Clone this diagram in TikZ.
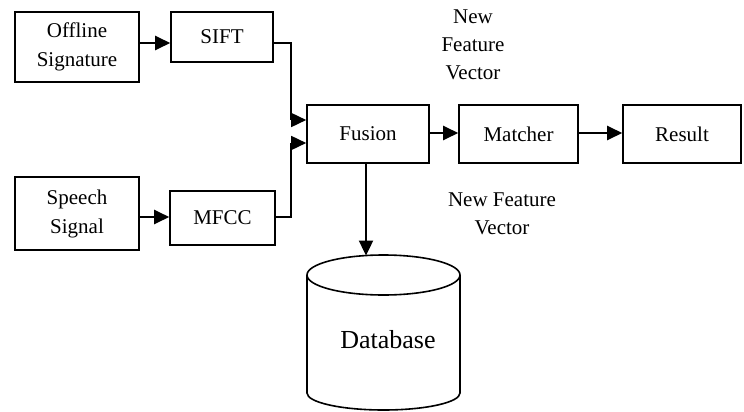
\documentclass[tikz,border=0pt]{standalone}
\usepackage{fontspec}
\setmainfont{Liberation Serif}
\usetikzlibrary{arrows.meta}
\begin{document}
\begin{tikzpicture}[x=0.5pt,y=-0.5pt,
  box/.style={draw,line width=0.8pt,inner sep=0pt,align=center,font=\fontsize{10.5}{14.5}\selectfont},
  lbl/.style={inner sep=0pt,align=center,font=\fontsize{10.5}{14}\selectfont},
  arr/.style={line width=1.2pt,-{Triangle[length=7.5pt,width=7pt]}},
  tarr/.style={line width=0.8pt,-{Triangle[length=7.5pt,width=7pt]}},
  conn/.style={line width=0.8pt}]
\useasboundingbox (0,0) rectangle (744,412);
\node[box,minimum width=62pt,minimum height=35pt] (off) at (77,47) {Offline\\Signature};
\node[box,minimum width=51pt,minimum height=25pt] (sift) at (222,37) {SIFT};
\node[box,minimum width=62pt,minimum height=36.5pt] (speech) at (77,213.5) {Speech\\Signal};
\node[box,minimum width=52.5pt,minimum height=27pt] (mfcc) at (222.5,218) {MFCC};
\node[box,minimum width=61pt,minimum height=29pt] (fusion) at (368,134) {Fusion};
\node[box,minimum width=59.5pt,minimum height=29pt] (matcher) at (518.5,134) {Matcher};
\node[box,minimum width=59pt,minimum height=29pt] (result) at (682,134) {Result};
\node[lbl] (nfv1) at (473,45) {New\\Feature\\Vector};
\node[lbl] (nfv2) at (502,214) {New Feature\\Vector};
% database cylinder
\draw[line width=0.8pt] (307,275) -- (307,393) arc[start angle=180,end angle=0,x radius=76.5,y radius=17] -- (460,275);
\draw[line width=0.8pt] (383.5,275) ellipse[x radius=76.5,y radius=20];
\node[inner sep=0pt,font=\fontsize{13}{15}\selectfont] (db) at (388,340) {Database};
\coordinate (dbtop) at (366,255.5);
% connectors
\draw[arr] (off.east |- 0,43) -- (sift.west |- 0,43);
\draw[arr] (speech.east |- 0,217) -- (mfcc.west |- 0,217);
\draw[conn] (sift.east |- 0,43) -- (291,43) -- (291,120);
\draw[tarr] (291,120) -- (fusion.west |- 0,120);
\draw[conn] (mfcc.east |- 0,217) -- (291,217) -- (291,143);
\draw[tarr] (291,143) -- (fusion.west |- 0,143);
\draw[arr] (fusion.east |- 0,133) -- (matcher.west |- 0,133);
\draw[arr] (matcher.east |- 0,133) -- (result.west |- 0,133);
\draw[arr] (fusion.south -| dbtop) -- (dbtop);
\end{tikzpicture}
\end{document}
